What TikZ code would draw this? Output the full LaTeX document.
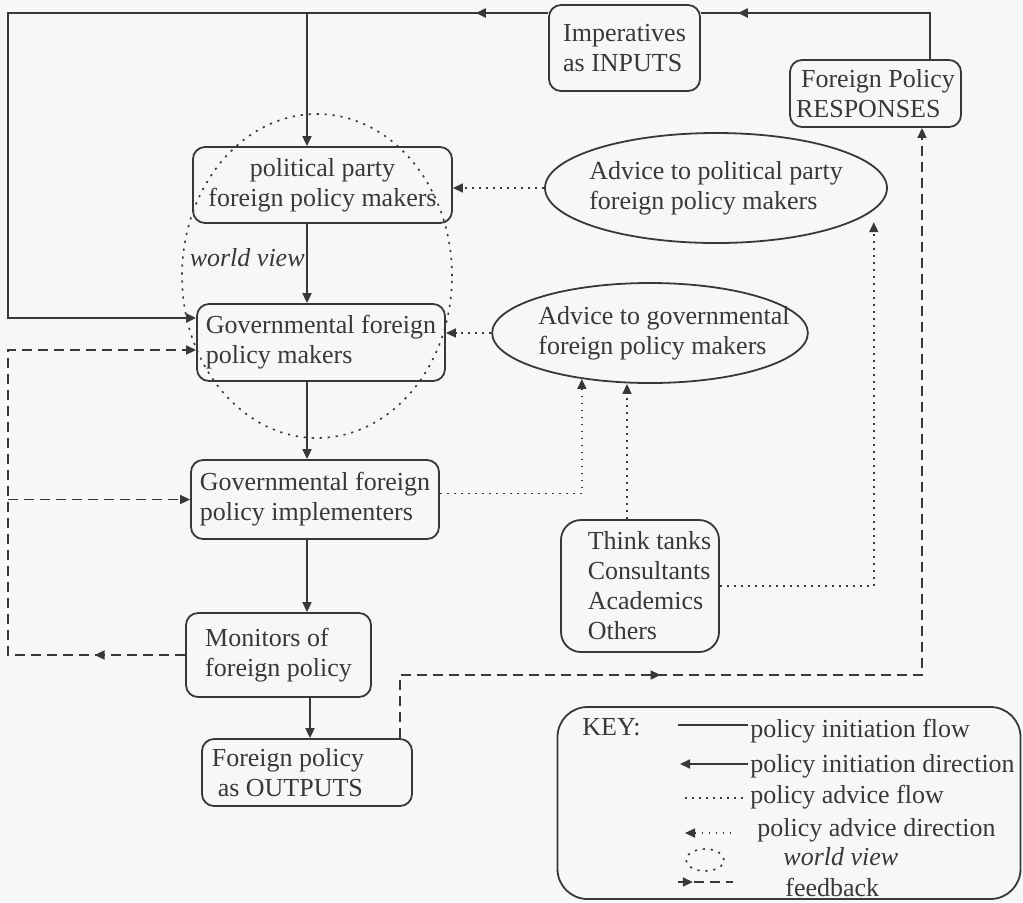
\documentclass[tikz,border=0pt]{standalone}
\usepackage{fontspec}
\setmainfont{Liberation Serif}
\usetikzlibrary{arrows.meta,shapes.geometric,decorations.markings,calc}

\definecolor{ink}{HTML}{383838}
\definecolor{paper}{HTML}{F7F7F7}

\tikzset{
  >={Triangle[length=5pt,width=4.5pt]},
  every node/.style={font=\fontsize{13}{15}\selectfont, text=ink},
  keytext/.style={inner sep=0pt},
  itlabel/.style={inner sep=0pt, font=\fontsize{13}{15}\selectfont\itshape},
  box/.style={draw=ink, line width=0.9pt, rounded corners=6pt, align=left, inner sep=0pt},
  oval/.style={draw=ink, line width=0.9pt, ellipse, align=left, inner xsep=-14pt, inner ysep=0pt},
  flow/.style={draw=ink, line width=0.9pt},
  advice/.style={draw=ink, line width=0.8pt, dash pattern=on 0.9pt off 2.6pt},
  feedback/.style={draw=ink, line width=0.8pt, dash pattern=on 5pt off 3pt},
  wview/.style={draw=ink, line width=0.8pt, dash pattern=on 1.1pt off 2.9pt, ellipse, inner sep=0pt},
  tipat/.style={postaction={decorate}, decoration={markings, mark=at position #1 with {\arrow{>}}}},
}

\begin{document}
\begin{tikzpicture}[x=0.5pt, y=-0.5pt]
  \fill[paper] (0,0) rectangle (1023,902);
  \useasboundingbox (0,0) rectangle (1023,902);

  % boxes of the policy chain
  \node[box, minimum width=75.5pt, minimum height=43pt] (imp) at (624.5,48) {Imperatives\\as INPUTS};
  \node[box, minimum width=85.5pt, minimum height=33.5pt] (resp) at (875.5,93.5) {\hspace*{2.5pt}Foreign Policy\\RESPONSES};
  \node[box, align=center, minimum width=129.5pt, minimum height=38pt] (pp) at (322.5,185) {political party\\foreign policy makers};
  \node[box, minimum width=124pt, minimum height=38.5pt] (gm) at (321,342.5) {Governmental foreign\\policy makers};
  \node[box, minimum width=124pt, minimum height=39.5pt] (gi) at (315,499.5) {Governmental foreign\\policy implementers};
  \node[box, minimum width=92.5pt, minimum height=42pt] (mon) at (278.5,655) {Monitors of\\foreign policy};
  \node[box, minimum width=105pt, minimum height=33.5pt] (out) at (307,772.5) {Foreign policy\hspace*{19pt}\\\hspace*{3pt}as OUTPUTS};
  \node[box, rounded corners=10pt, minimum width=79pt, minimum height=66pt] (think) at (640,586)
    {\hspace*{9.5pt}Think tanks\\\hspace*{9.5pt}Consultants\\\hspace*{9.5pt}Academics\\\hspace*{9.5pt}Others};

  % advice ellipses
  \node[oval, minimum width=171pt, minimum height=55pt] (app) at (716,188) {Advice to political party\\foreign policy makers};
  \node[oval, minimum width=139pt, minimum height=50pt] (agv) at (650,333) {\hspace*{14pt}Advice to governmental\\\hspace*{14pt}foreign policy makers};

  % policy initiation flow
  \coordinate (topR) at (930,13);
  \coordinate (topL) at (8,13);
  \coordinate (spine) at (307,13);
  \coordinate (spine2) at (310,0);
  \coordinate (loopL) at (8,318);
  \draw[flow, tipat=0.866] (resp.north -| topR) -- (topR) -- (imp.east |- topR);
  \draw[flow, tipat=0.07, ->] (imp.west |- topL) -- (topL) -- (loopL) -- (gm.west |- loopL);
  \draw[flow, ->] (spine) -- (spine |- pp.north);
  \draw[flow, ->] (spine |- pp.south) -- (spine |- gm.north);
  \draw[flow, ->] (spine |- gm.south) -- (spine |- gi.north);
  \draw[flow, ->] (spine |- gi.south) -- (spine |- mon.north);
  \draw[flow, ->] (spine2 |- mon.south) -- (spine2 |- out.north);

  % policy advice flow
  \draw[advice, ->] (app.west) -- (pp.east |- app.west);
  \draw[advice, ->] (agv.west) -- (gm.east |- agv.west);
  \draw[advice, ->] ([yshift=3pt]gi.east) -| (agv.214);
  \draw[advice, ->] ([xshift=-6.5pt]think.north) -- ([xshift=-6.5pt]think.north |- agv.south);
  \draw[advice, ->, shorten >=6pt] (think.east) -| (app.-8);

  % feedback
  \coordinate (fbR) at (922,675);
  \coordinate (fbL) at (8,350);
  \draw[feedback, ->, tipat=0.286] ([xshift=-6.5pt]out.north east) |- (fbR) -- (fbR |- resp.south);
  \draw[feedback, ->, tipat=0.135] (mon.west) -| (fbL) -- (gm.west |- fbL);
  \draw[feedback, ->] (fbL |- gi.west) -- (gi.west);

  % world view
  \node[wview, minimum width=135pt, minimum height=162pt] (wv) at (317,276) {};
  \node[itlabel, anchor=base east] (wvlabel) at (305,266) {world view};

  % key
  \node[box, rounded corners=15pt, minimum width=231.5pt, minimum height=96pt] (key) at (789,803) {};
  \node[keytext, anchor=base west] (keyt) at (582,735) {KEY:};
  \draw[flow] (678,725) -- (748,725);
  \node[keytext, anchor=base west] (k1) at (750,737) {policy initiation flow};
  \draw[flow, <-] (680,764) -- (748,764);
  \node[keytext, anchor=base west] (k2) at (750,772) {policy initiation direction};
  \draw[advice] (685,798) -- (745,798);
  \node[keytext, anchor=base west] (k3) at (750,803) {policy advice flow};
  \draw[advice, <-] (685,833) -- (735,833);
  \node[keytext, anchor=base west] (k4) at (757,836) {policy advice direction};
  \node[wview, minimum width=19pt, minimum height=11pt] (k5s) at (705,860) {};
  \node[itlabel, anchor=base west] (k5) at (783,865) {world view};
  \draw[feedback, tipat=0.27] (678,882) -- (733,882);
  \node[keytext, anchor=base west] (k6) at (785,896) {feedback};
\end{tikzpicture}
\end{document}
